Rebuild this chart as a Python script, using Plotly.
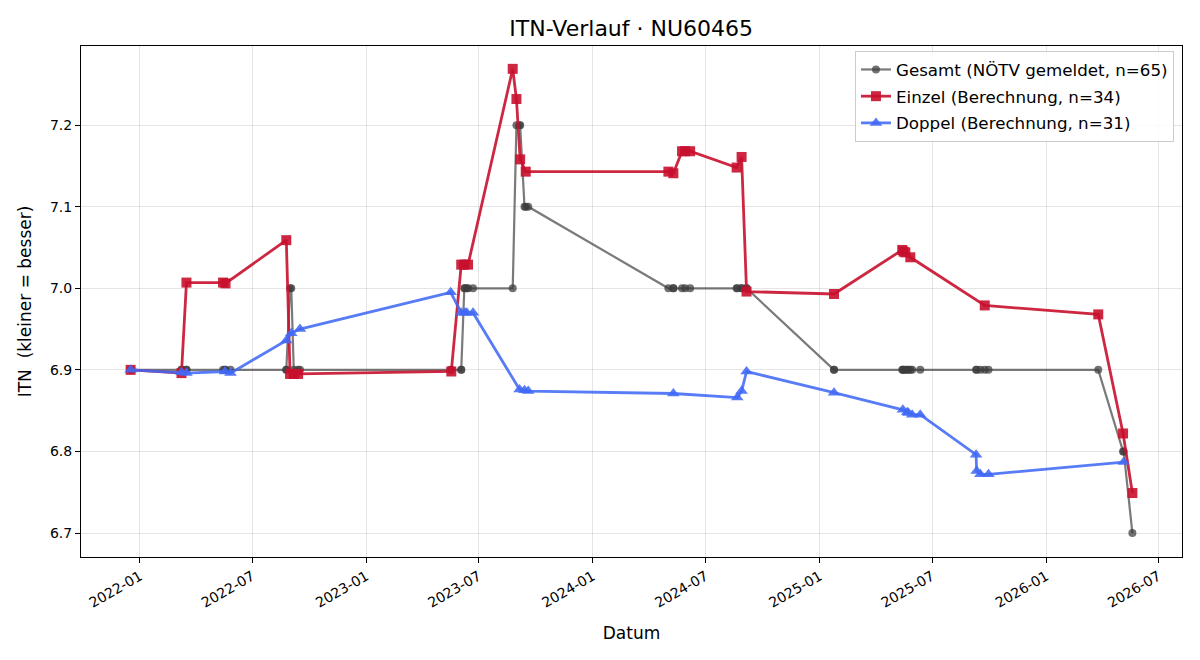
import plotly.graph_objects as go

# ---- data ----
dates_gesamt = [
    "2021-12-17", "2021-12-17", "2022-03-09", "2022-03-09", "2022-03-17", "2022-03-17",
    "2022-05-15", "2022-05-18", "2022-05-19", "2022-05-27", "2022-08-25", "2022-08-25",
    "2022-08-31", "2022-09-02", "2022-09-06", "2022-09-13", "2022-09-16", "2023-05-17",
    "2023-05-18", "2023-06-03", "2023-06-03", "2023-06-08", "2023-06-09", "2023-06-12",
    "2023-06-14", "2023-06-22", "2023-08-25", "2023-08-31", "2023-09-05", "2023-09-06",
    "2023-09-13", "2023-09-15", "2023-09-19", "2024-05-02", "2024-05-10", "2024-05-10",
    "2024-05-24", "2024-05-29", "2024-06-06", "2024-08-20", "2024-08-21", "2024-08-28",
    "2024-08-28", "2024-09-05", "2024-09-05", "2025-01-24", "2025-01-24", "2025-05-14",
    "2025-05-15", "2025-05-16", "2025-05-19", "2025-05-22", "2025-05-24", "2025-05-27",
    "2025-05-30", "2025-06-12", "2025-09-10", "2025-09-11", "2025-09-17", "2025-09-24",
    "2025-09-30", "2026-03-26", "2026-05-05", "2026-05-06", "2026-05-20",
]
itn_gesamt = [
    6.9, 6.9, 6.9, 6.9, 6.9, 6.9,
    6.9, 6.9, 6.9, 6.9, 6.9, 6.9,
    7.0, 7.0, 6.9, 6.9, 6.9, 6.9,
    6.9, 6.9, 6.9, 7.0, 7.0, 7.0,
    7.0, 7.0, 7.0, 7.2, 7.2, 7.2,
    7.1, 7.1, 7.1, 7.0, 7.0, 7.0,
    7.0, 7.0, 7.0, 7.0, 7.0, 7.0,
    7.0, 7.0, 7.0, 6.9, 6.9, 6.9,
    6.9, 6.9, 6.9, 6.9, 6.9, 6.9,
    6.9, 6.9, 6.9, 6.9, 6.9, 6.9,
    6.9, 6.9, 6.8, 6.8, 6.7,
]

dates_einzel = [
    "2021-12-17", "2022-03-09", "2022-03-17", "2022-05-15", "2022-05-19", "2022-08-25",
    "2022-08-31", "2022-09-06", "2022-09-13", "2023-05-18", "2023-06-03", "2023-06-08",
    "2023-06-14", "2023-08-25", "2023-08-31", "2023-09-06", "2023-09-15", "2024-05-02",
    "2024-05-10", "2024-05-24", "2024-05-29", "2024-06-06", "2024-08-20", "2024-08-28",
    "2024-09-05", "2025-01-24", "2025-05-14", "2025-05-16", "2025-05-19", "2025-05-27",
    "2025-09-24", "2026-03-26", "2026-05-05", "2026-05-20",
]
itn_einzel = [
    6.900, 6.896, 7.007, 7.007, 7.006, 7.059,
    6.895, 6.895, 6.895, 6.898, 7.029, 7.029,
    7.029, 7.269, 7.232, 7.158, 7.143, 7.143,
    7.141, 7.168, 7.168, 7.168, 7.148, 7.161,
    6.996, 6.993, 7.047, 7.045, 7.044, 7.038,
    6.979, 6.968, 6.822, 6.749,
]

dates_doppel = [
    "2021-12-17", "2022-03-09", "2022-03-17", "2022-05-18", "2022-05-27", "2022-08-25",
    "2022-09-02", "2022-09-16", "2023-05-17", "2023-06-03", "2023-06-09", "2023-06-12",
    "2023-06-22", "2023-09-05", "2023-09-13", "2023-09-19", "2024-05-10", "2024-08-21",
    "2024-08-28", "2024-09-05", "2025-01-24", "2025-05-15", "2025-05-22", "2025-05-24",
    "2025-05-30", "2025-06-12", "2025-09-10", "2025-09-11", "2025-09-17", "2025-09-30",
    "2026-05-06",
]
itn_doppel = [
    6.900, 6.897, 6.896, 6.898, 6.896, 6.936,
    6.945, 6.950, 6.995, 6.970, 6.970, 6.970,
    6.970, 6.876, 6.875, 6.874, 6.871, 6.866,
    6.874, 6.898, 6.872, 6.851, 6.848, 6.847,
    6.845, 6.845, 6.796, 6.776, 6.772, 6.772,
    6.787,
]

y_ticks = [6.7, 6.8, 6.9, 7.0, 7.1, 7.2]

FONT = "DejaVu Sans"

fig = go.Figure()

fig.add_trace(go.Scatter(
    x=dates_gesamt, y=itn_gesamt, mode="lines+markers",
    name=f"Gesamt (NÖTV gemeldet, n={len(itn_gesamt)})", legendgroup="g",
    line=dict(color="rgba(70,70,70,0.72)", width=2.2),
    marker=dict(symbol="circle", size=8, color="rgba(60,60,60,0.72)",
                line=dict(width=0)),
))
fig.add_trace(go.Scatter(
    x=dates_einzel, y=itn_einzel, mode="lines+markers",
    name=f"Einzel (Berechnung, n={len(itn_einzel)})", legendgroup="e",
    line=dict(color="rgba(200,16,46,0.9)", width=2.8),
    marker=dict(symbol="square", size=10, color="rgba(200,16,46,0.9)",
                line=dict(width=0)),
))
fig.add_trace(go.Scatter(
    x=dates_doppel, y=itn_doppel, mode="lines+markers",
    name=f"Doppel (Berechnung, n={len(itn_doppel)})", legendgroup="d",
    line=dict(color="rgba(65,105,245,0.88)", width=2.8),
    marker=dict(symbol="triangle-up", size=11, color="rgba(65,105,245,0.88)",
                line=dict(width=0)),
))

fig.update_layout(
    width=1200, height=660,
    margin=dict(l=81, r=18, t=46, b=103),
    paper_bgcolor="white", plot_bgcolor="white",
    font=dict(family=FONT, color="black", size=14),
    title=dict(text="ITN-Verlauf · NU60465", x=0.526, xanchor="center",
               y=1 - 28 / 660, yanchor="middle",
               font=dict(family=FONT, size=22, color="black")),
    legend=dict(x=0.9927, y=0.990, xanchor="right", yanchor="top",
                bgcolor="rgba(255,255,255,0.85)", bordercolor="#cccccc",
                borderwidth=1, font=dict(family=FONT, size=16.7),
                tracegroupgap=2),
    showlegend=True,
)

fig.update_xaxes(
    type="date",
    range=["2021-09-28", "2026-08-08"],
    tick0="2022-01-01", dtick="M6", tickformat="%Y-%m",
    tickangle=-30, ticks="outside", ticklen=5, tickcolor="black",
    tickfont=dict(family=FONT, size=14),
    showgrid=True, gridcolor="rgba(0,0,0,0.1)", gridwidth=1,
    showline=True, linecolor="black", linewidth=1, mirror=True,
    zeroline=False,
    title=dict(text="Datum", font=dict(family=FONT, size=17), standoff=17),
)
fig.update_yaxes(
    range=[6.6706, 7.297],
    tickvals=y_ticks, ticktext=[f"{v:.1f}" for v in y_ticks],
    ticks="outside", ticklen=5, tickcolor="black",
    tickfont=dict(family=FONT, size=14),
    showgrid=True, gridcolor="rgba(0,0,0,0.1)", gridwidth=1,
    showline=True, linecolor="black", linewidth=1, mirror=True,
    zeroline=False,
    title=dict(text="ITN \u00a0(kleiner = besser)", font=dict(family=FONT, size=17),
               standoff=13),
)

fig.write_html("out.html")
